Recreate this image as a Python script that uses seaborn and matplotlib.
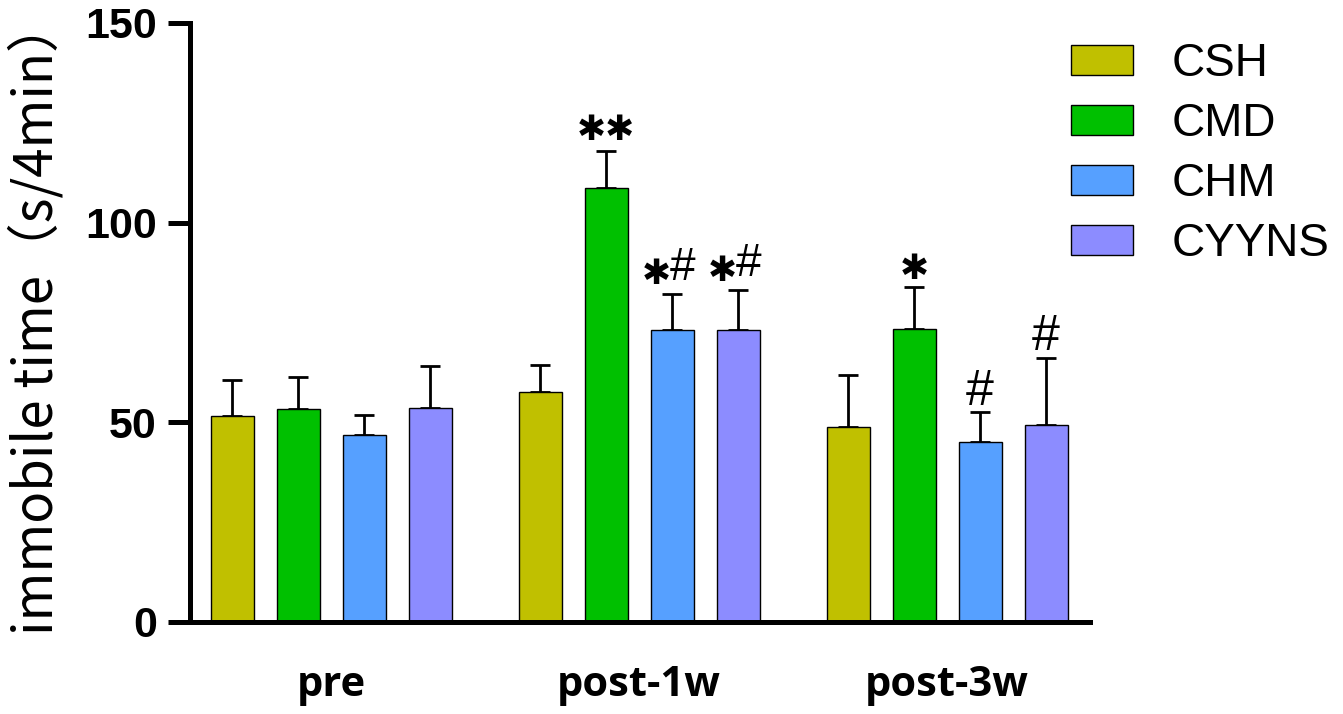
import matplotlib
matplotlib.use("Agg")
import matplotlib.pyplot as plt
from matplotlib.container import BarContainer
import seaborn as sns
import pandas as pd
import numpy as np

# ---- data ----
timepoints = ["pre", "post-1w", "post-3w"]
groups = ["CSH", "CMD", "CHM", "CYYNS"]
csh_mean = [51.4, 57.4, 48.7]
cmd_mean = [53.3, 108.7, 73.3]
chm_mean = [46.8, 73.0, 45.0]
cyyns_mean = [53.5, 73.0, 49.3]
csh_sd = [9.1, 6.9, 13.1]
cmd_sd = [8.1, 9.2, 10.5]
chm_sd = [5.0, 9.1, 7.4]
cyyns_sd = [10.6, 10.0, 16.8]
colors = ["#C0C000", "#00C000", "#56A0FF", "#8C8CFF"]
yticks = [0, 50, 100, 150]
ylabel = "immobile time（s/4min）"

# significance marks per (timepoint index, group index)
sig_time = [1, 1, 1, 2, 2, 2]
sig_group = [1, 2, 3, 1, 2, 3]
sig_stars = ["✱✱", "✱", "✱", "✱", "", ""]
sig_hash = ["", "#", "#", "", "#", "#"]

means = [csh_mean, cmd_mean, chm_mean, cyyns_mean]
sds = [csh_sd, cmd_sd, chm_sd, cyyns_sd]
rows = []
for g, m in zip(groups, means):
    for t, v in zip(timepoints, m):
        rows.append({"time": t, "group": g, "value": v})
df = pd.DataFrame(rows)

sns.set_style("ticks")
plt.rcParams["font.family"] = ["Liberation Sans", "DejaVu Sans"]
for k in ["text.color", "axes.labelcolor", "xtick.color", "ytick.color",
          "axes.edgecolor"]:
    plt.rcParams[k] = "black"

fig = plt.figure(figsize=(13.43, 7.14), dpi=100)
ax = fig.add_axes([190 / 1343, 1 - 621.5 / 714, 900 / 1343, 598.5 / 714])

sns.barplot(data=df, x="time", y="value", hue="group", order=timepoints,
            hue_order=groups, palette=colors, saturation=1, width=0.857,
            gap=0.35, errorbar=None, edgecolor="black", linewidth=1.0,
            ax=ax, legend=True, zorder=2)

bar_conts = [c for c in ax.containers if isinstance(c, BarContainer)]

# error bars (upper SD only), drawn behind the bars
centers = {}
for gi, cont in enumerate(bar_conts):
    xs = [b.get_x() + b.get_width() / 2 for b in cont]
    centers[gi] = xs
    ax.errorbar(xs, means[gi], yerr=[np.zeros(3), sds[gi]], fmt="none",
                ecolor="black", elinewidth=2.0, capsize=7.2, capthick=2.0,
                zorder=1)

for ti, gi, st, hs in zip(sig_time, sig_group, sig_stars, sig_hash):
    x = centers[gi][ti]
    top = means[gi][ti] + sds[gi][ti]
    if st and hs:
        ax.annotate(st, xy=(x, top), xytext=(-0.5, 14),
                    textcoords="offset points", ha="right", va="center",
                    fontsize=25, family="DejaVu Sans")
        ax.annotate(hs, xy=(x, top), xytext=(-1.5, 19),
                    textcoords="offset points", ha="left", va="center",
                    fontsize=33, family="Liberation Sans")
    elif st:
        ax.annotate(st, xy=(x, top), xytext=(0, 15 if len(st) > 1 else 13),
                    textcoords="offset points", ha="center", va="center",
                    fontsize=25, family="DejaVu Sans")
    else:
        ax.annotate(hs, xy=(x, top), xytext=(0, 15),
                    textcoords="offset points", ha="center", va="center",
                    fontsize=36, family="Liberation Sans")

ax.set_xlim(-0.458, 2.464)
ax.set_ylim(0, 150)
ax.set_yticks(yticks)
ax.set_yticklabels([str(v) for v in yticks], fontsize=31, fontweight="bold",
                   family="Liberation Sans")
ax.set_xticks(range(len(timepoints)))
ax.set_xticklabels(timepoints, fontsize=30, fontweight="bold",
                   family="Open Sans")
ax.tick_params(axis="y", length=16, width=3.6, pad=8, direction="out")
ax.tick_params(axis="x", length=0, pad=31)
ax.set_xlabel("")
ax.set_ylabel(ylabel, fontsize=38, family=["Noto Sans CJK SC", "DejaVu Sans"])
ax.yaxis.set_label_coords(-0.139, 0.508)

for s in ["top", "right"]:
    ax.spines[s].set_visible(False)
for s in ["left", "bottom"]:
    ax.spines[s].set_linewidth(3.6)
    ax.spines[s].set_color("black")

handles, labels = ax.get_legend_handles_labels()
ax.legend(handles, labels, loc="upper left",
          bbox_to_anchor=(1071 / 1343, 1 - 42 / 714),
          bbox_transform=fig.transFigure, frameon=False, fontsize=33,
          handlelength=1.35, handleheight=0.65, handletextpad=0.85,
          labelspacing=0.35, borderpad=0, borderaxespad=0)

fig.savefig("out.png", dpi=100, facecolor="white")
